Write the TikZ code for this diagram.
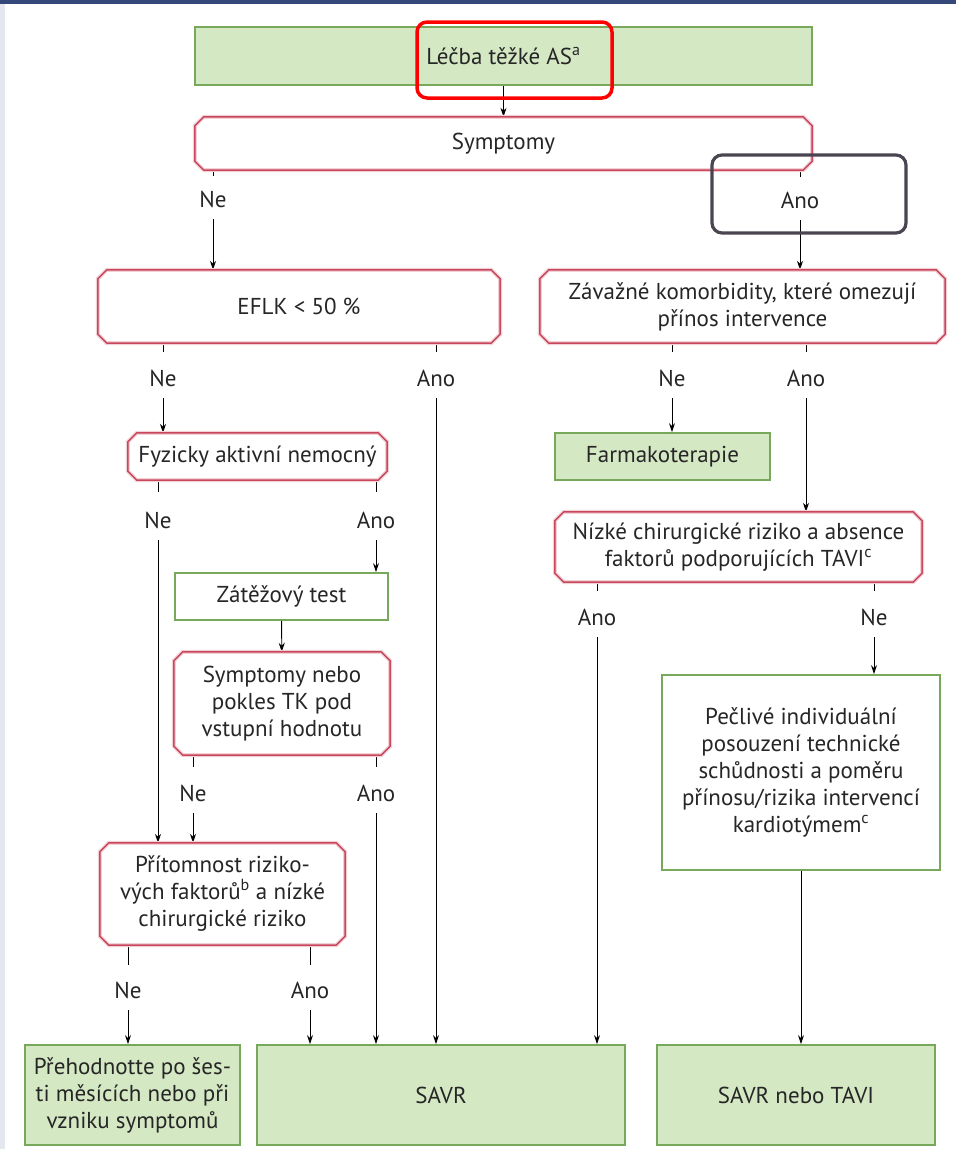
\documentclass[tikz,border=0pt]{standalone}
\usepackage{fontspec}
\setmainfont{PT Sans}
\usetikzlibrary{arrows.meta}
\definecolor{boxgreen}{RGB}{213,232,196}
\definecolor{edgegreen}{RGB}{120,168,92}
\definecolor{edgered}{RGB}{200,70,92}
\definecolor{bandblue}{RGB}{52,73,122}
\definecolor{stripgray}{RGB}{228,232,238}
\definecolor{markgray}{RGB}{74,69,80}
\begin{document}
\begin{tikzpicture}[x=1pt,y=-1pt,
		every node/.style={font=\fontsize{23}{27}\selectfont, text=black!85},
		decision/.style={rectangle, fill=white, align=center, inner sep=2pt},
		chamfer/.style={draw=edgered, line width=1.5pt, line join=round,
			preaction={draw=edgered!25, line width=4pt}},
		result/.style={rectangle, draw=edgegreen, line width=1.8pt, fill=boxgreen, align=center, inner sep=2pt},
		plainbox/.style={result, fill=white},
		answer/.style={inner sep=0pt, outer sep=12pt},
		arr/.style={-{Stealth[length=9pt,width=6pt]}, line width=0.9pt},
		tick/.style={line width=0.9pt}]
		\useasboundingbox (0,0) rectangle (956,1149);
		\fill[white] (0,0) rectangle (956,1149);
		\fill[bandblue] (0,0) rectangle (956,4);
		\fill[stripgray] (0,4) rectangle (5,1149);
		
		% Top
		\node[result, minimum width=617pt, minimum height=58pt] (treat) at (503.5,56) {Léčba těžké AS\textsuperscript{a}};
		\node[decision, minimum width=617pt, minimum height=53pt] (symp) at (503.5,143.5) {Symptomy};
		\draw[arr] (treat) -- (symp);
		\node[answer] (ne1) at (213,199) {Ne};
		\node[answer] (ano1) at (800,200) {Ano};
		\draw[tick] (symp.south -| ne1) -- ([yshift=3pt]ne1.north);
		\draw[tick] (symp.south -| ano1) -- ([yshift=3pt]ano1.north);
		
		% Left branch
		\node[decision, minimum width=402pt, minimum height=73pt] (eflk) at (299,306.5) {EFLK < 50 \%};
		\draw[arr] (ne1.south) -- (ne1.south |- eflk.north);
		\node[answer] (ne2) at (163,378) {Ne};
		\node[answer] (ano2) at (436,378) {Ano};
		\draw[tick] (eflk.south -| ne2) -- ([yshift=6pt]ne2.north);
		\draw[tick] (eflk.south -| ano2) -- ([yshift=6pt]ano2.north);
		
		\node[decision, minimum width=259pt, minimum height=47pt] (fyz) at (257.5,456.5) {Fyzicky aktivní nemocný};
		\draw[arr] (ne2.south) -- (ne2.south |- fyz.north);
		\node[answer] (ne4) at (158,520) {Ne};
		\node[answer] (ano4) at (376,520) {Ano};
		\draw[tick] (fyz.south -| ne4) -- ([yshift=8pt]ne4.north);
		\draw[tick] (fyz.south -| ano4) -- ([yshift=8pt]ano4.north);
		
		\node[plainbox, minimum width=213pt, minimum height=47pt] (zat) at (281.5,596.5) {Zátěžový test};
		\draw[arr] (ano4.south) -- (ano4.south |- zat.north);
		\node[decision, minimum width=216pt, minimum height=103pt] (sympt2) at (282,703.5) {Symptomy nebo\\pokles TK pod\\vstupní hodnotu};
		\draw[arr] (zat) -- (sympt2);
		\node[answer] (ne6) at (193,793) {Ne};
		\node[answer] (ano6) at (376,793) {Ano};
		\draw[tick] (sympt2.south -| ne6) -- ([yshift=6pt]ne6.north);
		\draw[tick] (sympt2.south -| ano6) -- ([yshift=6pt]ano6.north);
		
		\node[decision, minimum width=245pt, minimum height=102pt] (prit) at (222.5,894) {Přítomnost riziko-\\vých faktorů\textsuperscript{b} a nízké\\chirurgické riziko};
		\draw[arr] (ne4.south) -- (ne4.south |- prit.north);
		\draw[arr] (ne6.south) -- (ne6.south |- prit.north);
		\node[answer] (ne7) at (128,990) {Ne};
		\node[answer] (ano7) at (310,990) {Ano};
		\draw[tick] (prit.south -| ne7) -- ([yshift=5pt]ne7.north);
		\draw[tick] (prit.south -| ano7) -- ([yshift=5pt]ano7.north);
		
		% Right branch
		\node[decision, minimum width=405pt, minimum height=73pt] (komorb) at (742.5,306.5) {Závažné komorbidity, které omezují\\přínos intervence};
		\draw[arr] (ano1.south) -- (ano1.south |- komorb.north);
		\node[answer] (ne3) at (672,378) {Ne};
		\node[answer] (ano3) at (806,378) {Ano};
		\draw[tick] (komorb.south -| ne3) -- ([yshift=6pt]ne3.north);
		\draw[tick] (komorb.south -| ano3) -- ([yshift=6pt]ano3.north);
		
		\node[result, minimum width=215pt, minimum height=47pt] (farm) at (662.5,456.5) {Farmakoterapie};
		\draw[arr] (ne3.south) -- (ne3.south |- farm.north);
		\node[decision, minimum width=367pt, minimum height=70pt] (nizke) at (738.5,547) {Nízké chirurgické riziko a absence\\faktorů podporujících TAVI\textsuperscript{c}};
		\draw[arr] (ano3.south) -- (ano3.south |- nizke.north);
		\node[answer] (ano5) at (597,617) {Ano};
		\node[answer] (ne5) at (874,617) {Ne};
		\draw[tick] (nizke.south -| ano5) -- ([yshift=6pt]ano5.north);
		\draw[tick] (nizke.south -| ne5) -- ([yshift=6pt]ne5.north);
		
		\node[plainbox, minimum width=278pt, minimum height=195pt] (pecl) at (801,772.5) {Pečlivé individuální\\posouzení technické\\schůdnosti a poměru\\přínosu/rizika intervencí\\kardiotýmem\textsuperscript{c}};
		\draw[arr] (ne5.south) -- (ne5.south |- pecl.north);
		
		% Chamfered outlines of the decision boxes
		\foreach \n in {symp,eflk,fyz,sympt2,prit,komorb,nizke}
			\draw[chamfer] ([xshift=9pt]\n.north west) -- ([xshift=-9pt]\n.north east)
				-- ([yshift=-9pt]\n.north east) -- ([yshift=9pt]\n.south east)
				-- ([xshift=-9pt]\n.south east) -- ([xshift=9pt]\n.south west)
				-- ([yshift=9pt]\n.south west) -- ([yshift=-9pt]\n.north west) -- cycle;
		
		% Outcomes
		\node[result, minimum width=215pt, minimum height=100pt] (preh) at (132.5,1095) {Přehodnotte po šes-\\ti měsících nebo při\\vzniku symptomů};
		\node[result, minimum width=368pt, minimum height=100pt] (savr) at (441,1095) {SAVR};
		\node[result, minimum width=278pt, minimum height=100pt] (savrtavi) at (796,1095) {SAVR nebo TAVI};
		\draw[arr] (ne7.south) -- (ne7.south |- preh.north);
		\draw[arr] (ano7.south) -- (ano7.south |- savr.north);
		\draw[arr] (ano6.south) -- (ano6.south |- savr.north);
		\draw[arr] (ano2.south) -- (ano2.south |- savr.north);
		\draw[arr] (ano5.south) -- (ano5.south |- savr.north);
		\draw[arr] (pecl.south) -- (pecl.south |- savrtavi.north);
		
		% Highlight marks
		\draw[red, line width=3.5pt, rounded corners=10pt] (417,22) rectangle (612,98);
		\draw[markgray, line width=3.2pt, rounded corners=10pt] (712,155) rectangle (906,233);
	\end{tikzpicture}
\end{document}
